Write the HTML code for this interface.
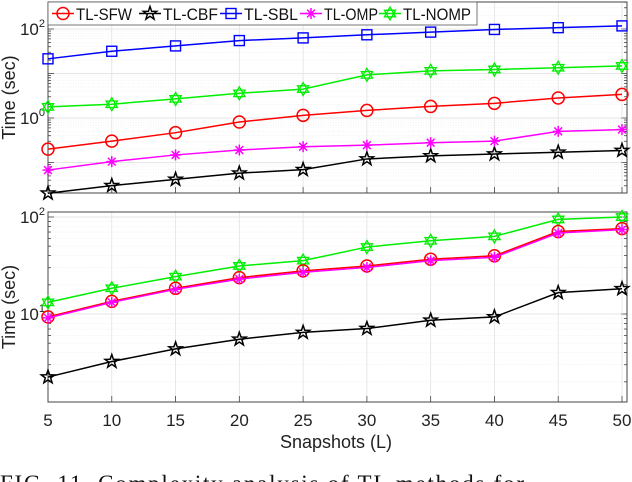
<!DOCTYPE html>
<html><head><meta charset="utf-8"><style>
html,body{margin:0;padding:0;background:#fff;overflow:hidden}
svg{display:block;font-family:"Liberation Sans",sans-serif}
</style></head><body>
<svg id="c" width="632" height="482" viewBox="0 0 632 482"></svg>
<script>
const snapshots=[5,10,15,20,25,30,35,40,45,50];
// top panel log10 values
const topSFW=[-0.70,-0.52,-0.33,-0.09,0.06,0.17,0.26,0.33,0.45,0.53];
const topCBF=[-1.69,-1.52,-1.38,-1.24,-1.16,-0.92,-0.85,-0.81,-0.77,-0.73];
const topSBL=[1.33,1.50,1.62,1.74,1.80,1.87,1.93,1.99,2.03,2.07];
const topOMP=[-1.17,-0.98,-0.83,-0.72,-0.645,-0.61,-0.555,-0.52,-0.30,-0.26];
const topNOMP=[0.25,0.31,0.43,0.555,0.65,0.97,1.06,1.09,1.13,1.17];
// bottom panel log10 values
const botSFW=[0.97,1.13,1.265,1.375,1.445,1.495,1.565,1.60,1.85,1.88];
const botCBF=[0.35,0.51,0.64,0.74,0.81,0.85,0.935,0.97,1.22,1.26];
const botOMP=[0.96,1.12,1.255,1.36,1.43,1.48,1.55,1.585,1.835,1.87];
const botNOMP=[1.12,1.265,1.385,1.495,1.55,1.69,1.755,1.80,1.975,2.0];
const xTicks=[5,10,15,20,25,30,35,40,45,50];

const NS="http://www.w3.org/2000/svg";
const svg=document.getElementById('c');
function el(t,a,p){const e=document.createElementNS(NS,t);for(const k in a)e.setAttribute(k,a[k]);(p||svg).appendChild(e);return e;}
const X0=48,X1=622,PL=48,PR=627;
const xs=v=>X0+(v-5)/45*(X1-X0);

const panels=[
 {top:2,bot:193,lmin:-1.69,lmax:2.61,y0:118,dec:44.5,labels:[[2,'2'],[0,'0']],
  series:[['sfw','#ff0000','circle',topSFW],['cbf','#000','star',topCBF],['sbl','#0000ff','square',topSBL],['omp','#ff00ff','asterisk',topOMP],['nomp','#00ee00','hexstar',topNOMP]],name:'top-panel'},
 {top:212,bot:402,lmin:0.093,lmax:2.05,y0:314,dec:97,y0log:1,labels:[[2,'2'],[1,'1']],
  series:[['nomp','#00ee00','hexstar',botNOMP],['sfw','#ff0000','circle',botSFW],['omp','#ff00ff','asterisk',botOMP],['cbf','#000','star',botCBF]],name:'bottom-panel'}
];

function marker(g,type,x,y,c){
 if(type==='circle')el('circle',{cx:x,cy:y,r:6,fill:'none',stroke:c,'stroke-width':1.5},g);
 else if(type==='square')el('rect',{x:x-5,y:y-5,width:10,height:10,fill:'none',stroke:c,'stroke-width':1.4},g);
 else if(type==='asterisk'){for(let a=0;a<4;a++){const t=a*Math.PI/4;el('line',{x1:x-5.5*Math.cos(t),y1:y-5.5*Math.sin(t),x2:x+5.5*Math.cos(t),y2:y+5.5*Math.sin(t),stroke:c,'stroke-width':1.5},g);}}
 else if(type==='star'){let p=[];for(let i=0;i<10;i++){const r=i%2?2.8:7,t=-Math.PI/2+i*Math.PI/5;p.push((x+r*Math.cos(t)).toFixed(1)+','+(y+r*Math.sin(t)).toFixed(1));}el('polygon',{points:p.join(' '),fill:'none',stroke:c,'stroke-width':1.5},g);}
 else if(type==='hexstar'){for(let k=0;k<2;k++){let p=[];for(let i=0;i<3;i++){const t=-Math.PI/2+k*Math.PI+i*2*Math.PI/3;p.push((x+6.5*Math.cos(t)).toFixed(1)+','+(y+6.5*Math.sin(t)).toFixed(1));}el('polygon',{points:p.join(' '),fill:'none',stroke:c,'stroke-width':1.3},g);}}
}

panels.forEach(P=>{
 const yl=P.y0log||0;
 const ys=v=>P.y0-(v-yl)*P.dec;
 const g=el('g',{});
 
 
 for(let d=Math.floor(P.lmin);d<=Math.ceil(P.lmax);d++){
  for(let m=1;m<10;m++){const l=d+Math.log10(m);if(l<P.lmin||l>P.lmax)continue;const y=ys(l);
   el('line',{x1:PL,x2:PR,y1:y,y2:y,stroke:m===1?'#dcdcdc':'#ececec','stroke-width':m===1?0.8:0.6,'stroke-dasharray':m===1?'':'1,1.5'},g);
   el('line',{x1:PL,x2:PL+(m===1?6:3),y1:y,y2:y,stroke:'#444','stroke-width':0.8},g);
   el('line',{x1:PR,x2:PR-(m===1?6:3),y1:y,y2:y,stroke:'#444','stroke-width':0.8},g);}
 }
 xTicks.forEach(v=>{el('line',{x1:xs(v),x2:xs(v),y1:P.top,y2:P.bot,stroke:'#e2e2e2','stroke-width':0.8},g);
  el('line',{x1:xs(v),x2:xs(v),y1:P.bot,y2:P.bot-6,stroke:'#444','stroke-width':0.8},g);});
 el('rect',{x:PL,y:P.top,width:PR-PL,height:P.bot-P.top,fill:'none',stroke:'#444','stroke-width':1},g);
 P.labels.forEach(([l,s])=>{const t=el('text',{x:45,y:ys(l)+6,'text-anchor':'end','font-size':17,fill:'#222'},g);
  
  t.innerHTML='10<tspan dy="-8" font-size="11">'+s+'</tspan>';});
 P.series.forEach(([n,c,mk,vals])=>{
  const sg=el('g',{},g);
  
  
  el('polyline',{points:vals.map((v,i)=>xs(snapshots[i])+','+ys(v)).join(' '),fill:'none',stroke:c,'stroke-width':1.5},sg);
  vals.forEach((v,i)=>marker(sg,mk,xs(snapshots[i]),ys(v),c));
 });
 const yt=el('text',{transform:`translate(15,${(P.top+P.bot)/2}) rotate(-90)`,'text-anchor':'middle','font-size':18,fill:'#222'},g);
 
 yt.textContent='Time (sec)';
});

xTicks.forEach(v=>{const t=el('text',{x:xs(v),y:426,'text-anchor':'middle','font-size':17,fill:'#222'});
 t.textContent=v;});
const xt=el('text',{x:336,y:448,'text-anchor':'middle','font-size':18,fill:'#222'});
xt.textContent='Snapshots (L)';

const lg=el('g',{});


el('rect',{x:48,y:2,width:429,height:23,fill:'#fff',stroke:'#555','stroke-width':0.8},lg);
const leg=[['TL-SFW','#ff0000','circle',52,56],['TL-CBF','#000','star',139,55],['TL-SBL','#0000ff','square',220,54],['TL-OMP','#ff00ff','asterisk',300,54],['TL-NOMP','#00ee00','hexstar',379,68]];
leg.forEach(([t,c,mk,x,w])=>{const eg=el('g',{},lg);
 
 el('line',{x1:x,x2:x+22,y1:13.5,y2:13.5,stroke:c,'stroke-width':1.5},eg);marker(eg,mk,x+11,13.5,c);
 const tx=el('text',{x:x+24,y:20,'font-size':17,fill:'#111',textLength:w,lengthAdjust:'spacingAndGlyphs'},eg);tx.textContent=t;});

const cap=el('text',{x:0,y:491,'font-size':23,fill:'#111','font-family':'"Liberation Serif",serif',textLength:524,lengthAdjust:'spacing'});

cap.textContent='FIG. 11.  Complexity analysis of TL methods for';
</script>
</body></html>
